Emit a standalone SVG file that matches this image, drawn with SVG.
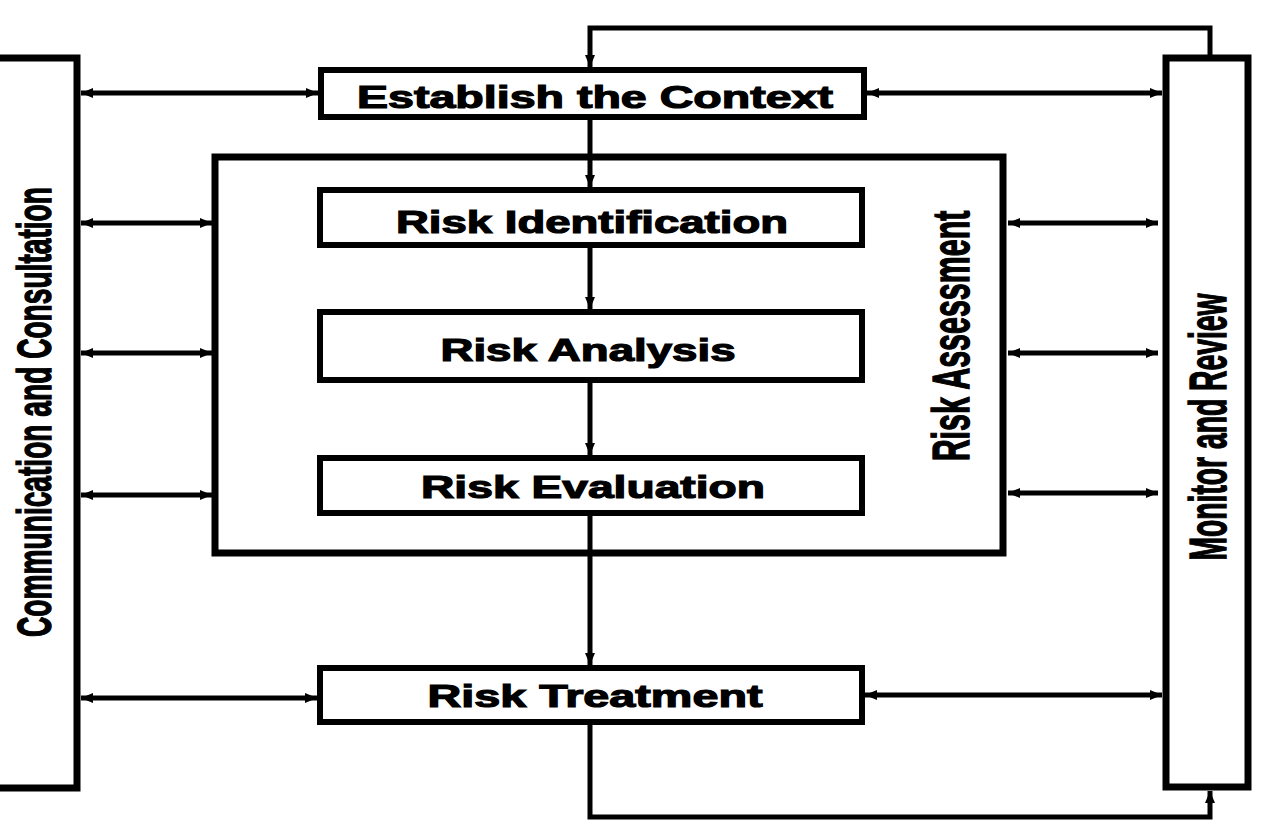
<svg xmlns="http://www.w3.org/2000/svg" width="1288" height="823" viewBox="0 0 1288 823">
<style>
.box{fill:#fff;stroke:#000;stroke-width:6}
.frame{fill:none;stroke:#000;stroke-width:7}
.ln{fill:none;stroke:#000;stroke-width:5;stroke-linecap:butt;stroke-linejoin:miter}
.arr{marker-end:url(#ah)}
.dbl{marker-start:url(#ah);marker-end:url(#ah)}
.t{font-family:"Liberation Sans",Arial,sans-serif;font-weight:bold;font-size:32px;fill:#000;stroke:#000;stroke-width:1.2;text-anchor:middle}
.v{font-family:"Liberation Sans",Arial,sans-serif;font-weight:bold;font-size:52px;fill:#000;stroke:#000;stroke-width:1.4;text-anchor:middle}
.vl{font-size:48px}
</style>
<defs>
<marker id="ah" viewBox="0 0 12 10" refX="12" refY="5" markerWidth="12" markerHeight="10" markerUnits="userSpaceOnUse" orient="auto-start-reverse">
<path d="M0,0 L12,5 L0,10 Z" fill="#000"/>
</marker>
</defs>
<rect width="1288" height="823" fill="#fff"/>

<g id="connectors">
<polyline class="ln arr" points="1210,58 1210,28 590,28 590,67"/>
<line class="ln arr" x1="590" y1="117" x2="590" y2="187"/>
<line class="ln arr" x1="590" y1="245" x2="590" y2="309"/>
<line class="ln arr" x1="590" y1="380" x2="590" y2="455"/>
<line class="ln arr" x1="590" y1="513" x2="590" y2="665"/>
<polyline class="ln arr" points="590,722 590,817 1210,817 1210,791"/>
<line class="ln dbl" x1="81" y1="93" x2="318" y2="93"/>
<line class="ln dbl" x1="81" y1="223" x2="212" y2="223"/>
<line class="ln dbl" x1="81" y1="353" x2="212" y2="353"/>
<line class="ln dbl" x1="81" y1="495" x2="212" y2="495"/>
<line class="ln dbl" x1="81" y1="698" x2="317" y2="698"/>
<line class="ln dbl" x1="867" y1="93" x2="1162" y2="93"/>
<line class="ln dbl" x1="1008" y1="223" x2="1158" y2="223"/>
<line class="ln dbl" x1="1008" y1="353" x2="1158" y2="353"/>
<line class="ln dbl" x1="1008" y1="493" x2="1158" y2="493"/>
<line class="ln dbl" x1="865" y1="695" x2="1162" y2="695"/>
</g>

<g id="comm">
<path class="frame" d="M0,58 H77 V788 H0"/>
<text class="v vl" transform="translate(51,412) rotate(-90) scale(0.586,1)">Communication and Consultation</text>
</g>

<g id="monitor">
<rect class="frame" x="1166" y="58" width="82" height="729"/>
<text class="v" transform="translate(1226,427) rotate(-90) scale(0.544,1)">Monitor and Review</text>
</g>

<g id="assessment">
<rect class="frame" x="215" y="157" width="788" height="396"/>
<text class="v" transform="translate(969,336) rotate(-90) scale(0.585,1)">Risk Assessment</text>
</g>

<g id="context">
<rect class="box" x="321" y="70" width="543" height="47"/>
<text class="t" x="595" y="108" textLength="476" lengthAdjust="spacingAndGlyphs">Establish the Context</text>
</g>

<g id="identification">
<rect class="box" x="320" y="190" width="542" height="55"/>
<text class="t" x="592" y="233" textLength="392" lengthAdjust="spacingAndGlyphs">Risk Identification</text>
</g>

<g id="analysis">
<rect class="box" x="320" y="312" width="542" height="68"/>
<text class="t" x="588" y="361" textLength="295" lengthAdjust="spacingAndGlyphs">Risk Analysis</text>
</g>

<g id="evaluation">
<rect class="box" x="320" y="458" width="542" height="55"/>
<text class="t" x="593" y="498" textLength="344" lengthAdjust="spacingAndGlyphs">Risk Evaluation</text>
</g>

<g id="treatment">
<rect class="box" x="320" y="668" width="542" height="54"/>
<text class="t" x="595" y="707" textLength="335" lengthAdjust="spacingAndGlyphs">Risk Treatment</text>
</g>
</svg>
